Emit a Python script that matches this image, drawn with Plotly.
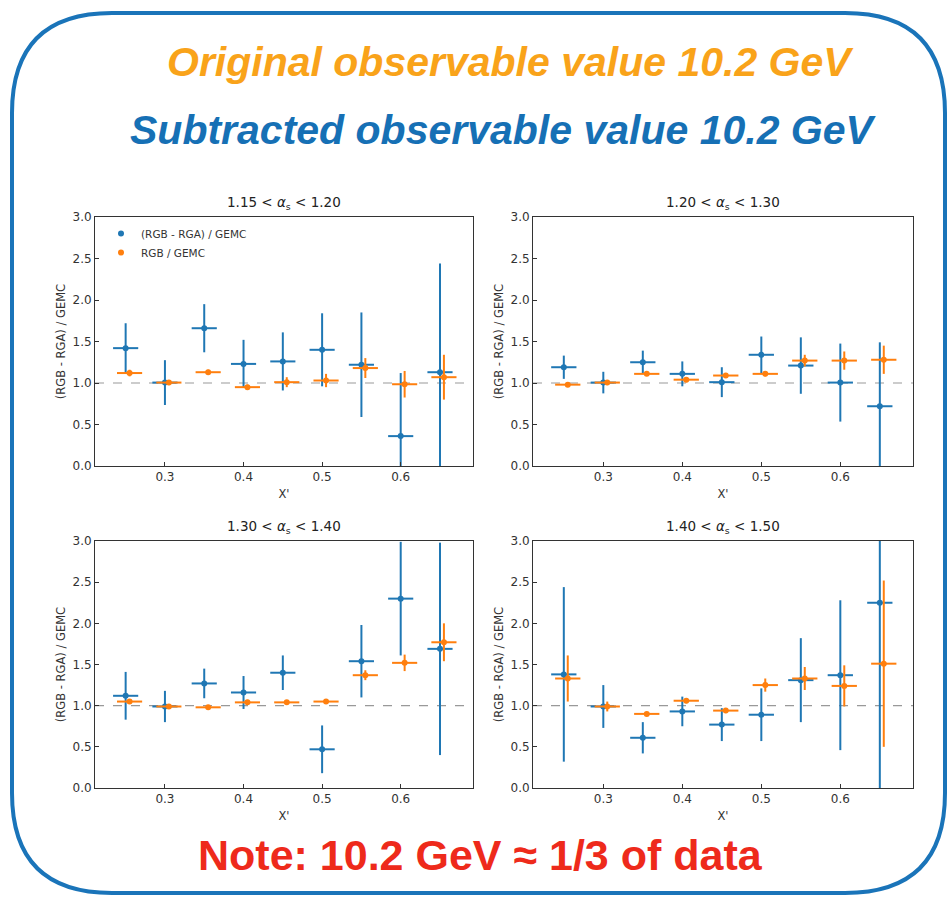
import plotly.graph_objects as go

# ---------------- data ----------------
x_bins = [0.25, 0.30, 0.35, 0.40, 0.45, 0.50, 0.55, 0.60, 0.65]
x_half_width = 0.016
panel_titles = ["1.15 < <i>α</i><sub>s</sub> < 1.20", "1.20 < <i>α</i><sub>s</sub> < 1.30",
                "1.30 < <i>α</i><sub>s</sub> < 1.40", "1.40 < <i>α</i><sub>s</sub> < 1.50"]

sub_vals = [
    [1.42, 1.005, 1.66, 1.23, 1.26, 1.40, 1.22, 0.36, 1.13],
    [1.19, 1.005, 1.25, 1.11, 1.01, 1.34, 1.21, 1.005, 0.72],
    [1.12, 0.99, 1.27, 1.16, 1.40, 0.47, 1.54, 2.30, 1.69],
    [1.38, 0.99, 0.61, 0.93, 0.77, 0.89, 1.31, 1.37, 2.25],
]
sub_errs = [
    [0.30, 0.27, 0.29, 0.29, 0.35, 0.44, 0.63, 0.76, 1.31],
    [0.14, 0.13, 0.14, 0.15, 0.18, 0.22, 0.34, 0.47, 0.77],
    [0.29, 0.19, 0.18, 0.20, 0.21, 0.29, 0.44, 0.69, 1.29],
    [1.06, 0.26, 0.19, 0.18, 0.20, 0.32, 0.51, 0.91, 2.25],
]
rgb_vals = [
    [1.12, 1.005, 1.13, 0.95, 1.01, 1.03, 1.18, 0.985, 1.07],
    [0.98, 1.005, 1.11, 1.04, 1.09, 1.11, 1.27, 1.27, 1.28],
    [1.05, 0.99, 0.98, 1.04, 1.04, 1.05, 1.37, 1.52, 1.77],
    [1.33, 0.99, 0.90, 1.06, 0.94, 1.25, 1.33, 1.24, 1.51],
]
rgb_errs = [
    [0.04, 0.03, 0.03, 0.03, 0.06, 0.08, 0.12, 0.16, 0.27],
    [0.02, 0.03, 0.02, 0.03, 0.03, 0.03, 0.07, 0.11, 0.17],
    [0.03, 0.03, 0.02, 0.03, 0.02, 0.02, 0.06, 0.10, 0.23],
    [0.28, 0.06, 0.02, 0.03, 0.03, 0.08, 0.14, 0.25, 1.01],
]
y_ticks = [0.0, 0.5, 1.0, 1.5, 2.0, 2.5, 3.0]
x_ticks = [0.3, 0.4, 0.5, 0.6]

# ---------------- layout helpers ----------------
W, H = 951, 898
def px(x):
    return x / W
def py(y):
    return 1 - y / H

BLUE = "#1f77b4"
ORANGE = "#ff7f0e"
# panel boxes in pixels: (left, right, top, bottom)
boxes = [(95, 473, 217, 466), (533, 913, 217, 466),
         (95, 473, 541, 788), (533, 913, 541, 788)]

fig = go.Figure()
for i in range(4):
    xa = "x" if i == 0 else f"x{i+1}"
    ya = "y" if i == 0 else f"y{i+1}"
    fig.add_trace(go.Scatter(
        x=x_bins, y=sub_vals[i], mode="markers", xaxis=xa, yaxis=ya,
        name="(RGB - RGA) / GEMC", showlegend=(i == 0), legendrank=1,
        marker=dict(color=BLUE, size=6),
        error_y=dict(type="data", array=sub_errs[i], color=BLUE, thickness=2, width=0),
        error_x=dict(type="data", array=[x_half_width] * len(x_bins), color=BLUE, thickness=2, width=0),
        cliponaxis=True))
    fig.add_trace(go.Scatter(
        x=[v + 0.005 for v in x_bins], y=rgb_vals[i], mode="markers", xaxis=xa, yaxis=ya,
        name="RGB / GEMC", showlegend=(i == 0), legendrank=2,
        marker=dict(color=ORANGE, size=6),
        error_y=dict(type="data", array=rgb_errs[i], color=ORANGE, thickness=2, width=0),
        error_x=dict(type="data", array=[x_half_width] * len(x_bins), color=ORANGE, thickness=2, width=0),
        cliponaxis=True))

layout = dict(width=W, height=H, margin=dict(l=0, r=0, t=0, b=0),
              paper_bgcolor="white", plot_bgcolor="white",
              font=dict(family="DejaVu Sans", color="#333333", size=11),
              showlegend=True,
              legend=dict(x=px(101), y=py(219), xanchor="left", yanchor="top",
                          bgcolor="rgba(0,0,0,0)", font=dict(size=10.5, color="#333333"),
                          tracegroupgap=2, itemwidth=30))
annotations = []
shapes = []
for i, (l, r, t, b) in enumerate(boxes):
    sx = "" if i == 0 else str(i + 1)
    layout["xaxis" + sx] = dict(
        domain=[px(l), px(r)], anchor="y" + sx, range=[0.211, 0.692],
        tickvals=x_ticks, tickformat=".1f", ticks="inside", ticklen=4, tickcolor="#333",
        showline=True, linecolor="#333", linewidth=1, mirror=True, showgrid=False,
        zeroline=False, automargin=False,
        title=dict(text="X'", font=dict(size=11.5, color="#333"), standoff=6),
        tickfont=dict(size=12, color="#333"))
    layout["yaxis" + sx] = dict(
        domain=[py(b), py(t)], anchor="x" + sx, range=[0, 3],
        tickvals=y_ticks, tickformat=".1f", ticks="inside", ticklen=4, tickcolor="#333",
        showline=True, linecolor="#333", linewidth=1, mirror=True, showgrid=False,
        zeroline=False, automargin=False,
        title=dict(text="(RGB - RGA) / GEMC", font=dict(size=11.5, color="#333"), standoff=4),
        tickfont=dict(size=12, color="#333"))
    annotations.append(dict(text=panel_titles[i], xref="paper", yref="paper",
                            x=px((l + r) / 2), y=py(t), xanchor="center", yanchor="bottom",
                            yshift=3, showarrow=False, font=dict(size=13.5, color="#222")))
    shapes.append(dict(type="line", xref=f"x{sx} domain", yref="y" + sx,
                       x0=0, x1=1, y0=1, y1=1, layer="below",
                       line=dict(color="#999999", width=1.2, dash="dash")))

# big texts
annotations.append(dict(text="<b><i>Original observable value 10.2 GeV</i></b>", xref="paper", yref="paper",
                        x=px(510), y=py(62), xanchor="center", yanchor="middle", showarrow=False,
                        font=dict(size=41, color="#f9a31a", family="Liberation Sans")))
annotations.append(dict(text="<b><i>Subtracted observable value 10.2 GeV</i></b>", xref="paper", yref="paper",
                        x=px(503), y=py(130), xanchor="center", yanchor="middle", showarrow=False,
                        font=dict(size=41, color="#1670b5", family="Liberation Sans")))
annotations.append(dict(text="<b>Note: 10.2 GeV ≈ 1/3 of data</b>", xref="paper", yref="paper",
                        x=px(480), y=py(855), xanchor="center", yanchor="middle", showarrow=False,
                        font=dict(size=43, color="#ee2a1b", family="Liberation Sans")))

# rounded border
L, R, T, B, rad = 12, 945, 13, 893, 100
def pt(x, y):
    return f"{px(x):.5f},{py(y):.5f}"
path = (f"M {pt(L + rad, T)} L {pt(R - rad, T)} Q {pt(R, T)} {pt(R, T + rad)} "
        f"L {pt(R, B - rad)} Q {pt(R, B)} {pt(R - rad, B)} "
        f"L {pt(L + rad, B)} Q {pt(L, B)} {pt(L, B - rad)} "
        f"L {pt(L, T + rad)} Q {pt(L, T)} {pt(L + rad, T)} Z")
shapes.append(dict(type="path", xref="paper", yref="paper", path=path,
                   line=dict(color="#1a74b9", width=4), layer="above"))

layout["annotations"] = annotations
layout["shapes"] = shapes
fig.update_layout(**layout)
fig.write_html("out.html", config={"displayModeBar": False},
               post_script="document.body.style.margin='0';document.body.style.overflow='hidden';")
